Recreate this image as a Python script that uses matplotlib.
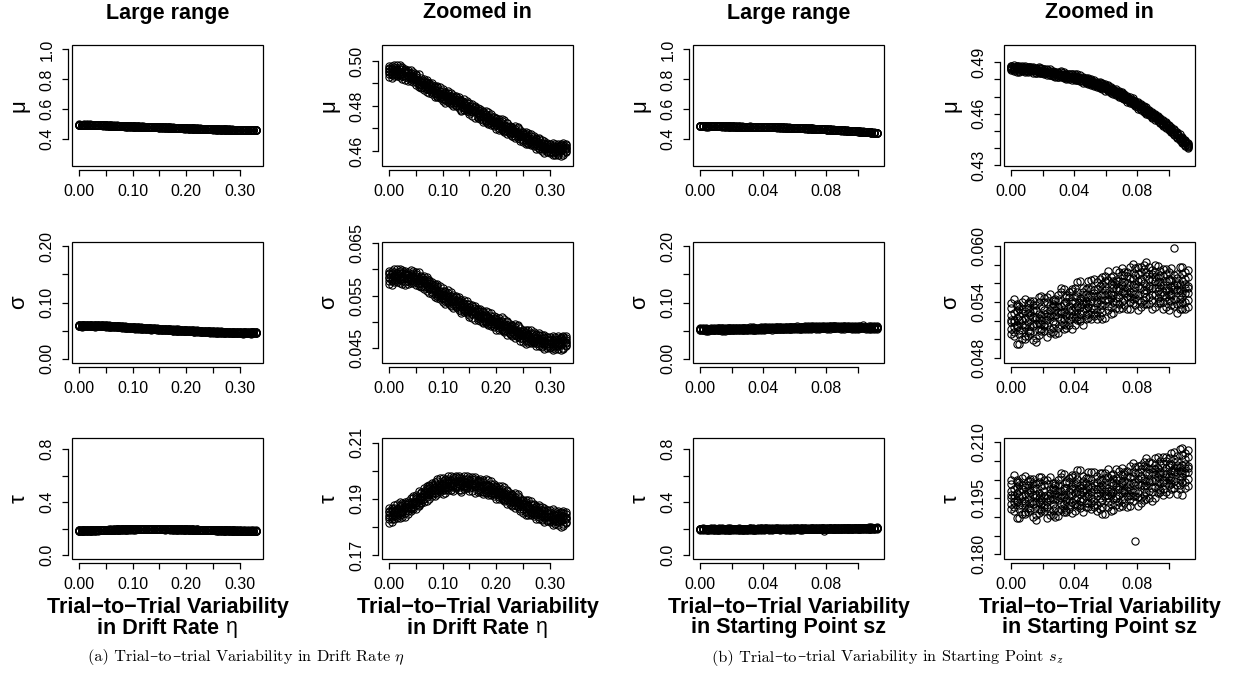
import numpy as np
import matplotlib
matplotlib.use("Agg")
import matplotlib.pyplot as plt
from matplotlib.patches import Rectangle
from matplotlib.offsetbox import TextArea, HPacker, AnnotationBbox

plt.rcParams['font.family'] = ['Liberation Sans', 'DejaVu Sans']
plt.rcParams['mathtext.fontset'] = 'cm'

# ---- data: trial-to-trial variability in drift rate (eta) ----
eta = [0.000, 0.005, 0.010, 0.015, 0.020, 0.025, 0.030, 0.035, 0.040, 0.045,
       0.050, 0.055, 0.060, 0.065, 0.070, 0.075, 0.080, 0.085, 0.090, 0.095,
       0.100, 0.105, 0.110, 0.115, 0.120, 0.125, 0.130, 0.135, 0.140, 0.145,
       0.150, 0.155, 0.160, 0.165, 0.170, 0.175, 0.180, 0.185, 0.190, 0.195,
       0.200, 0.205, 0.210, 0.215, 0.220, 0.225, 0.230, 0.235, 0.240, 0.245,
       0.250, 0.255, 0.260, 0.265, 0.270, 0.275, 0.280, 0.285, 0.290, 0.295,
       0.300, 0.305, 0.310, 0.315, 0.320, 0.325, 0.330]

# mu estimates (units of 1e-4), 7 replications per eta value
mu_eta = [
    [4964, 4940, 4979, 4949, 4955, 4928, 4970], [4964, 4943, 4976, 4952, 4925, 4970, 4937],
    [4943, 4973, 4958, 4934, 4982, 4952, 4961], [4939, 4981, 4948, 4933, 4960, 4954, 4966],
    [4973, 4943, 4928, 4964, 4949, 4982, 4937], [4952, 4940, 4964, 4973, 4931, 4922, 4943],
    [4945, 4960, 4927, 4951, 4915, 4954, 4966], [4913, 4952, 4937, 4931, 4961, 4949, 4925],
    [4928, 4961, 4946, 4919, 4937, 4913, 4925], [4944, 4905, 4932, 4926, 4914, 4953, 4929],
    [4936, 4894, 4918, 4927, 4906, 4942, 4915], [4904, 4916, 4892, 4940, 4910, 4898, 4886],
    [4881, 4908, 4917, 4893, 4923, 4884, 4905], [4920, 4881, 4899, 4872, 4911, 4893, 4905],
    [4901, 4886, 4862, 4907, 4895, 4877, 4916], [4871, 4880, 4901, 4895, 4856, 4904, 4874],
    [4861, 4900, 4885, 4873, 4852, 4891, 4876], [4875, 4890, 4842, 4863, 4872, 4851, 4884],
    [4865, 4844, 4883, 4889, 4853, 4856, 4838], [4835, 4847, 4865, 4883, 4841, 4856, 4853],
    [4874, 4850, 4838, 4832, 4865, 4856, 4820], [4844, 4859, 4832, 4826, 4862, 4850, 4814],
    [4829, 4850, 4817, 4841, 4868, 4823, 4856], [4859, 4808, 4826, 4835, 4823, 4811, 4844],
    [4841, 4799, 4832, 4847, 4820, 4826, 4814], [4811, 4829, 4841, 4805, 4826, 4844, 4802],
    [4811, 4823, 4799, 4790, 4832, 4841, 4820], [4820, 4778, 4808, 4826, 4784, 4802, 4811],
    [4829, 4790, 4805, 4811, 4781, 4793, 4817], [4778, 4799, 4781, 4793, 4823, 4811, 4787],
    [4772, 4811, 4784, 4790, 4802, 4763, 4787], [4787, 4772, 4808, 4757, 4778, 4784, 4802],
    [4783, 4771, 4795, 4747, 4777, 4789, 4801], [4747, 4789, 4762, 4780, 4783, 4753, 4768],
    [4740, 4779, 4761, 4788, 4749, 4767, 4755], [4772, 4751, 4736, 4757, 4778, 4763, 4730],
    [4762, 4753, 4732, 4738, 4777, 4729, 4759], [4741, 4771, 4750, 4732, 4726, 4720, 4753],
    [4731, 4716, 4764, 4743, 4734, 4755, 4722], [4752, 4716, 4728, 4746, 4722, 4734, 4710],
    [4746, 4734, 4716, 4698, 4740, 4725, 4728], [4704, 4719, 4731, 4695, 4743, 4710, 4725],
    [4713, 4698, 4725, 4731, 4695, 4707, 4743], [4716, 4686, 4689, 4713, 4704, 4737, 4695],
    [4674, 4725, 4707, 4698, 4710, 4722, 4689], [4689, 4707, 4698, 4674, 4713, 4680, 4695],
    [4698, 4680, 4668, 4704, 4683, 4665, 4707], [4674, 4698, 4659, 4689, 4683, 4710, 4668],
    [4665, 4707, 4677, 4659, 4701, 4683, 4674], [4683, 4653, 4668, 4692, 4644, 4674, 4665],
    [4683, 4662, 4680, 4668, 4638, 4650, 4674], [4638, 4668, 4683, 4647, 4662, 4629, 4674],
    [4650, 4665, 4629, 4680, 4659, 4653, 4635], [4647, 4632, 4665, 4641, 4677, 4638, 4626],
    [4665, 4623, 4650, 4632, 4629, 4659, 4644], [4642, 4609, 4624, 4651, 4633, 4657, 4645],
    [4615, 4636, 4651, 4630, 4609, 4624, 4657], [4607, 4649, 4625, 4616, 4637, 4601, 4628],
    [4622, 4592, 4613, 4631, 4637, 4643, 4610], [4636, 4609, 4600, 4624, 4594, 4633, 4612],
    [4589, 4625, 4613, 4595, 4619, 4607, 4631], [4597, 4612, 4636, 4591, 4603, 4621, 4582],
    [4622, 4607, 4595, 4631, 4583, 4616, 4601], [4623, 4584, 4599, 4611, 4632, 4593, 4608],
    [4599, 4629, 4626, 4602, 4611, 4578, 4620], [4607, 4628, 4589, 4583, 4619, 4616, 4634],
    [4618, 4600, 4609, 4633, 4594, 4627, 4612],
]

# sigma estimates (units of 1e-5)
sigma_eta = [
    [5905, 5785, 5980, 5830, 5860, 5725, 5935], [5908, 5803, 5968, 5848, 5713, 5938, 5773],
    [5805, 5955, 5880, 5760, 6000, 5850, 5895], [5790, 6000, 5835, 5760, 5895, 5865, 5925],
    [5970, 5820, 5745, 5925, 5850, 6015, 5790], [5878, 5818, 5938, 5983, 5773, 5728, 5833],
    [5860, 5935, 5770, 5890, 5710, 5905, 5965], [5720, 5915, 5840, 5810, 5960, 5900, 5780],
    [5820, 5985, 5910, 5775, 5865, 5745, 5805], [5930, 5735, 5870, 5840, 5780, 5975, 5855],
    [5920, 5710, 5830, 5875, 5770, 5950, 5815], [5775, 5835, 5715, 5955, 5805, 5745, 5685],
    [5675, 5810, 5855, 5735, 5885, 5690, 5795], [5870, 5675, 5765, 5630, 5825, 5735, 5795],
    [5780, 5705, 5585, 5810, 5750, 5660, 5855], [5625, 5670, 5775, 5745, 5550, 5790, 5640],
    [5575, 5770, 5695, 5635, 5530, 5725, 5650], [5645, 5720, 5480, 5585, 5630, 5525, 5690],
    [5595, 5490, 5685, 5715, 5535, 5550, 5460], [5445, 5505, 5595, 5685, 5475, 5550, 5535],
    [5640, 5520, 5460, 5430, 5595, 5550, 5370], [5490, 5565, 5430, 5400, 5580, 5520, 5340],
    [5415, 5520, 5355, 5475, 5610, 5385, 5550], [5565, 5310, 5400, 5445, 5385, 5325, 5490],
    [5475, 5265, 5430, 5505, 5370, 5400, 5340], [5328, 5418, 5478, 5298, 5403, 5493, 5283],
    [5330, 5390, 5270, 5225, 5435, 5480, 5375], [5378, 5168, 5318, 5408, 5198, 5288, 5333],
    [5425, 5230, 5305, 5335, 5185, 5245, 5365], [5170, 5275, 5185, 5245, 5395, 5335, 5215],
    [5140, 5335, 5200, 5230, 5290, 5095, 5215], [5220, 5145, 5325, 5070, 5175, 5205, 5295],
    [5210, 5150, 5270, 5030, 5180, 5240, 5300], [5035, 5245, 5110, 5200, 5215, 5065, 5140],
    [5010, 5205, 5115, 5250, 5055, 5145, 5085], [5180, 5075, 5000, 5105, 5210, 5135, 4970],
    [5140, 5095, 4990, 5020, 5215, 4975, 5125], [5040, 5190, 5085, 4995, 4965, 4935, 5100],
    [5000, 4925, 5165, 5060, 5015, 5120, 4955], [5110, 4930, 4990, 5080, 4960, 5020, 4900],
    [5085, 5025, 4935, 4845, 5055, 4980, 4995], [4883, 4958, 5018, 4838, 5078, 4913, 4988],
    [4935, 4860, 4995, 5025, 4845, 4905, 5085], [4958, 4808, 4823, 4943, 4898, 5063, 4853],
    [4755, 5010, 4920, 4875, 4935, 4995, 4830], [4838, 4928, 4883, 4763, 4958, 4793, 4868],
    [4890, 4800, 4740, 4920, 4815, 4725, 4935], [4775, 4895, 4700, 4850, 4820, 4955, 4745],
    [4735, 4945, 4795, 4705, 4915, 4825, 4780], [4833, 4683, 4758, 4878, 4638, 4788, 4743],
    [4840, 4735, 4825, 4765, 4615, 4675, 4795], [4628, 4778, 4853, 4673, 4748, 4583, 4808],
    [4700, 4775, 4595, 4850, 4745, 4715, 4625], [4698, 4623, 4788, 4668, 4848, 4653, 4593],
    [4800, 4590, 4725, 4635, 4620, 4770, 4695], [4695, 4530, 4605, 4740, 4650, 4770, 4710],
    [4575, 4680, 4755, 4650, 4545, 4620, 4785], [4548, 4758, 4638, 4593, 4698, 4518, 4653],
    [4640, 4490, 4595, 4685, 4715, 4745, 4580], [4718, 4583, 4538, 4658, 4508, 4703, 4598],
    [4495, 4675, 4615, 4525, 4645, 4585, 4705], [4540, 4615, 4735, 4510, 4570, 4660, 4465],
    [4675, 4600, 4540, 4720, 4480, 4645, 4570], [4680, 4485, 4560, 4620, 4725, 4530, 4605],
    [4565, 4715, 4700, 4580, 4625, 4460, 4670], [4600, 4705, 4510, 4480, 4660, 4645, 4735],
    [4650, 4560, 4605, 4725, 4530, 4695, 4620],
]

# tau estimates (units of 1e-4)
tau_eta = [
    [1852, 1828, 1867, 1837, 1843, 1816, 1858], [1856, 1835, 1868, 1844, 1817, 1862, 1829],
    [1838, 1868, 1853, 1829, 1877, 1847, 1856], [1839, 1881, 1848, 1833, 1860, 1854, 1866],
    [1879, 1849, 1834, 1870, 1855, 1888, 1843], [1866, 1854, 1878, 1887, 1845, 1836, 1857],
    [1867, 1882, 1849, 1873, 1837, 1876, 1888], [1846, 1885, 1870, 1864, 1894, 1882, 1858],
    [1872, 1905, 1890, 1863, 1881, 1857, 1869], [1902, 1863, 1890, 1884, 1872, 1911, 1887],
    [1908, 1866, 1890, 1899, 1878, 1914, 1887], [1892, 1904, 1880, 1928, 1898, 1886, 1874],
    [1884, 1911, 1920, 1896, 1926, 1887, 1908], [1937, 1898, 1916, 1889, 1928, 1910, 1922],
    [1932, 1917, 1893, 1938, 1926, 1908, 1947], [1915, 1924, 1945, 1939, 1900, 1948, 1918],
    [1918, 1957, 1942, 1930, 1909, 1948, 1933], [1944, 1959, 1911, 1932, 1941, 1920, 1953],
    [1945, 1924, 1963, 1969, 1933, 1936, 1918], [1925, 1937, 1955, 1973, 1931, 1946, 1943],
    [1973, 1949, 1937, 1931, 1964, 1955, 1919], [1951, 1966, 1939, 1933, 1969, 1957, 1921],
    [1944, 1965, 1932, 1956, 1983, 1938, 1971], [1981, 1930, 1948, 1957, 1945, 1933, 1966],
    [1970, 1928, 1961, 1976, 1949, 1955, 1943], [1947, 1965, 1977, 1941, 1962, 1980, 1938],
    [1953, 1965, 1941, 1932, 1974, 1983, 1962], [1968, 1926, 1956, 1974, 1932, 1950, 1959],
    [1983, 1944, 1959, 1965, 1935, 1947, 1971], [1938, 1959, 1941, 1953, 1983, 1971, 1947],
    [1937, 1976, 1949, 1955, 1967, 1928, 1952], [1957, 1942, 1978, 1927, 1948, 1954, 1972],
    [1958, 1946, 1970, 1922, 1952, 1964, 1976], [1926, 1968, 1941, 1959, 1962, 1932, 1947],
    [1924, 1963, 1945, 1972, 1933, 1951, 1939], [1960, 1939, 1924, 1945, 1966, 1951, 1918],
    [1954, 1945, 1924, 1930, 1969, 1921, 1951], [1936, 1966, 1945, 1927, 1921, 1915, 1948],
    [1929, 1914, 1962, 1941, 1932, 1953, 1920], [1952, 1916, 1928, 1946, 1922, 1934, 1910],
    [1947, 1935, 1917, 1899, 1941, 1926, 1929], [1907, 1922, 1934, 1898, 1946, 1913, 1928],
    [1917, 1902, 1929, 1935, 1899, 1911, 1947], [1922, 1892, 1895, 1919, 1910, 1943, 1901],
    [1881, 1932, 1914, 1905, 1917, 1929, 1896], [1897, 1915, 1906, 1882, 1921, 1888, 1903],
    [1907, 1889, 1877, 1913, 1892, 1874, 1916], [1884, 1908, 1869, 1899, 1893, 1920, 1878],
    [1876, 1918, 1888, 1870, 1912, 1894, 1885], [1895, 1865, 1880, 1904, 1856, 1886, 1877],
    [1896, 1875, 1893, 1881, 1851, 1863, 1887], [1852, 1882, 1897, 1861, 1876, 1843, 1888],
    [1865, 1880, 1844, 1895, 1874, 1868, 1850], [1864, 1849, 1882, 1858, 1894, 1855, 1843],
    [1883, 1841, 1868, 1850, 1847, 1877, 1862], [1861, 1828, 1843, 1870, 1852, 1876, 1864],
    [1836, 1857, 1872, 1851, 1830, 1845, 1878], [1830, 1872, 1848, 1839, 1860, 1824, 1851],
    [1847, 1817, 1838, 1856, 1862, 1868, 1835], [1862, 1835, 1826, 1850, 1820, 1859, 1838],
    [1817, 1853, 1841, 1823, 1847, 1835, 1859], [1824, 1839, 1863, 1818, 1830, 1848, 1809],
    [1849, 1834, 1822, 1858, 1810, 1843, 1828], [1848, 1809, 1824, 1836, 1857, 1818, 1833],
    [1823, 1853, 1850, 1826, 1835, 1802, 1844], [1829, 1850, 1811, 1805, 1841, 1838, 1856],
    [1837, 1819, 1828, 1852, 1813, 1846, 1831],
]

# ---- data: trial-to-trial variability in starting point (sz) ----
sz = [0.00000, 0.00175, 0.00350, 0.00525, 0.00700, 0.00875, 0.01050, 0.01225,
      0.01400, 0.01575, 0.01750, 0.01925, 0.02100, 0.02275, 0.02450, 0.02625,
      0.02800, 0.02975, 0.03150, 0.03325, 0.03500, 0.03675, 0.03850, 0.04025,
      0.04200, 0.04375, 0.04550, 0.04725, 0.04900, 0.05075, 0.05250, 0.05425,
      0.05600, 0.05775, 0.05950, 0.06125, 0.06300, 0.06475, 0.06650, 0.06825,
      0.07000, 0.07175, 0.07350, 0.07525, 0.07700, 0.07875, 0.08050, 0.08225,
      0.08400, 0.08575, 0.08750, 0.08925, 0.09100, 0.09275, 0.09450, 0.09625,
      0.09800, 0.09975, 0.10150, 0.10325, 0.10500, 0.10675, 0.10850, 0.11025,
      0.11200]

mu_sz = [
    [4870, 4858, 4864, 4880, 4854, 4876, 4866], [4851, 4859, 4871, 4883, 4855, 4865, 4863],
    [4858, 4878, 4876, 4860, 4866, 4844, 4872], [4863, 4873, 4855, 4851, 4875, 4867, 4843],
    [4872, 4862, 4854, 4878, 4846, 4868, 4858], [4879, 4845, 4857, 4863, 4855, 4847, 4869],
    [4845, 4869, 4861, 4849, 4865, 4857, 4873], [4852, 4864, 4872, 4848, 4862, 4874, 4846],
    [4858, 4838, 4852, 4864, 4868, 4872, 4850], [4862, 4834, 4854, 4866, 4838, 4850, 4856],
    [4841, 4855, 4865, 4851, 4837, 4847, 4869], [4836, 4850, 4838, 4846, 4866, 4858, 4842],
    [4861, 4833, 4851, 4839, 4837, 4857, 4847], [4844, 4834, 4858, 4824, 4838, 4842, 4854],
    [4837, 4847, 4823, 4857, 4843, 4839, 4827], [4820, 4848, 4830, 4842, 4844, 4824, 4834],
    [4844, 4830, 4842, 4834, 4814, 4822, 4838], [4839, 4825, 4815, 4829, 4843, 4833, 4811],
    [4818, 4846, 4826, 4814, 4842, 4830, 4824], [4821, 4841, 4827, 4815, 4811, 4807, 4829],
    [4826, 4814, 4806, 4830, 4816, 4804, 4832], [4832, 4808, 4816, 4828, 4812, 4820, 4804],
    [4797, 4831, 4819, 4813, 4821, 4829, 4807], [4802, 4812, 4820, 4796, 4828, 4806, 4816],
    [4808, 4798, 4816, 4820, 4796, 4804, 4828], [4810, 4790, 4792, 4808, 4802, 4824, 4796],
    [4813, 4805, 4793, 4781, 4809, 4799, 4801], [4790, 4802, 4796, 4780, 4806, 4784, 4794],
    [4785, 4775, 4807, 4793, 4787, 4801, 4779], [4778, 4794, 4768, 4788, 4784, 4802, 4774],
    [4786, 4780, 4766, 4770, 4796, 4764, 4784], [4781, 4761, 4771, 4787, 4755, 4775, 4769],
    [4751, 4777, 4765, 4783, 4757, 4769, 4761], [4747, 4767, 4777, 4753, 4763, 4741, 4771],
    [4758, 4750, 4766, 4734, 4754, 4762, 4770], [4747, 4737, 4759, 4743, 4767, 4741, 4733],
    [4728, 4754, 4736, 4740, 4748, 4722, 4738], [4736, 4714, 4724, 4742, 4730, 4746, 4738],
    [4742, 4716, 4726, 4730, 4710, 4718, 4734], [4704, 4732, 4716, 4710, 4724, 4700, 4718],
    [4705, 4713, 4697, 4691, 4719, 4725, 4711], [4712, 4694, 4688, 4704, 4684, 4710, 4696],
    [4699, 4671, 4693, 4703, 4685, 4689, 4681], [4672, 4682, 4698, 4668, 4676, 4688, 4662],
    [4664, 4678, 4656, 4672, 4690, 4660, 4682], [4670, 4644, 4654, 4662, 4676, 4650, 4660],
    [4666, 4650, 4642, 4638, 4660, 4654, 4630], [4637, 4651, 4625, 4621, 4645, 4643, 4655],
    [4630, 4616, 4642, 4646, 4622, 4624, 4612], [4601, 4617, 4625, 4629, 4607, 4613, 4637],
    [4596, 4622, 4612, 4604, 4590, 4616, 4606], [4601, 4587, 4609, 4593, 4575, 4605, 4583],
    [4591, 4581, 4565, 4595, 4587, 4575, 4601], [4561, 4589, 4567, 4557, 4575, 4571, 4579],
    [4545, 4563, 4569, 4553, 4573, 4547, 4561], [4549, 4541, 4557, 4563, 4535, 4529, 4543],
    [4546, 4518, 4534, 4540, 4526, 4550, 4532], [4503, 4529, 4519, 4515, 4535, 4527, 4511],
    [4503, 4525, 4515, 4497, 4509, 4493, 4501], [4505, 4479, 4497, 4493, 4485, 4511, 4495],
    [4478, 4488, 4466, 4482, 4458, 4484, 4492], [4458, 4466, 4450, 4482, 4462, 4454, 4446],
    [4460, 4440, 4430, 4454, 4444, 4466, 4436], [4446, 4420, 4432, 4414, 4440, 4428, 4436],
    [4405, 4425, 4415, 4399, 4431, 4411, 4417],
]

sigma_sz = [
    [5260, 5110, 5185, 5385, 5060, 5335, 5210], [5033, 5133, 5283, 5433, 5083, 5208, 5183],
    [5130, 5380, 5355, 5155, 5230, 4955, 5305], [5205, 5330, 5105, 5055, 5355, 5255, 4955],
    [5330, 5205, 5105, 5405, 5005, 5280, 5155], [5433, 5008, 5158, 5233, 5133, 5033, 5308],
    [5035, 5335, 5235, 5085, 5285, 5185, 5385], [5138, 5288, 5388, 5088, 5263, 5413, 5063],
    [5240, 4990, 5165, 5315, 5365, 5415, 5140], [5320, 4970, 5220, 5370, 5020, 5170, 5245],
    [5100, 5275, 5400, 5225, 5050, 5175, 5450], [5085, 5260, 5110, 5210, 5460, 5360, 5160],
    [5445, 5095, 5320, 5170, 5145, 5395, 5270], [5280, 5155, 5455, 5030, 5205, 5255, 5405],
    [5240, 5365, 5065, 5490, 5315, 5265, 5115], [5075, 5425, 5200, 5350, 5375, 5125, 5250],
    [5435, 5260, 5410, 5310, 5060, 5160, 5360], [5420, 5245, 5120, 5295, 5470, 5345, 5070],
    [5205, 5555, 5305, 5155, 5505, 5355, 5280], [5290, 5540, 5365, 5215, 5165, 5115, 5390],
    [5400, 5250, 5150, 5450, 5275, 5125, 5475], [5508, 5208, 5308, 5458, 5258, 5358, 5158],
    [5115, 5540, 5390, 5315, 5415, 5515, 5240], [5225, 5350, 5450, 5150, 5550, 5275, 5400],
    [5360, 5235, 5460, 5510, 5210, 5310, 5610], [5445, 5195, 5220, 5420, 5345, 5620, 5270],
    [5555, 5455, 5305, 5155, 5505, 5380, 5405], [5340, 5490, 5415, 5215, 5540, 5265, 5390],
    [5350, 5225, 5625, 5450, 5375, 5550, 5275], [5338, 5538, 5213, 5463, 5413, 5638, 5288],
    [5525, 5450, 5275, 5325, 5650, 5250, 5500], [5538, 5288, 5413, 5613, 5213, 5463, 5388],
    [5250, 5575, 5425, 5650, 5325, 5475, 5375], [5288, 5538, 5663, 5363, 5488, 5213, 5588],
    [5525, 5425, 5625, 5225, 5475, 5575, 5675], [5485, 5360, 5635, 5435, 5735, 5410, 5310],
    [5345, 5670, 5445, 5495, 5595, 5270, 5470], [5555, 5280, 5405, 5630, 5480, 5680, 5580],
    [5740, 5415, 5540, 5590, 5340, 5440, 5640], [5375, 5725, 5525, 5450, 5625, 5325, 5550],
    [5510, 5610, 5410, 5335, 5685, 5760, 5585], [5718, 5493, 5418, 5618, 5368, 5693, 5518],
    [5675, 5325, 5600, 5725, 5500, 5550, 5450], [5455, 5580, 5780, 5405, 5505, 5655, 5330],
    [5485, 5660, 5385, 5585, 5810, 5435, 5710], [5690, 5365, 5490, 5590, 5765, 5440, 5565],
    [5770, 5570, 5470, 5420, 5695, 5620, 5320], [5548, 5723, 5398, 5348, 5648, 5623, 5773],
    [5600, 5425, 5750, 5800, 5500, 5525, 5375], [5375, 5575, 5675, 5725, 5450, 5525, 5825],
    [5450, 5775, 5650, 5550, 5375, 5700, 5575], [5648, 5473, 5748, 5548, 5323, 5698, 5423],
    [5670, 5545, 5345, 5720, 5620, 5470, 5795], [5440, 5790, 5515, 5390, 5615, 5565, 5665],
    [5385, 5610, 5685, 5485, 5735, 5410, 5585], [5580, 5480, 5680, 5755, 5405, 5330, 5505],
    [5700, 5350, 5550, 5625, 5450, 5750, 5525], [5320, 5645, 5520, 5470, 5720, 5620, 5420],
    [5490, 5765, 5640, 5415, 5565, 5365, 5465], [5685, 5360, 5585, 5535, 5435, 5980, 5560],
    [5530, 5655, 5380, 5580, 5280, 5605, 5705], [5478, 5578, 5378, 5778, 5528, 5428, 5328],
    [5700, 5450, 5325, 5625, 5500, 5775, 5400], [5723, 5398, 5548, 5323, 5648, 5498, 5598],
    [5420, 5670, 5545, 5345, 5745, 5495, 5570],
]

tau_sz = [
    [1970, 1934, 1952, 2000, 1922, 1988, 1958], [1916, 1940, 1976, 2012, 1928, 1958, 1952],
    [1939, 1999, 1993, 1945, 1963, 1897, 1981], [1957, 1987, 1933, 1921, 1993, 1969, 1897],
    [1986, 1956, 1932, 2004, 1908, 1974, 1944], [2010, 1908, 1944, 1962, 1938, 1914, 1980],
    [1913, 1985, 1961, 1925, 1973, 1949, 1997], [1937, 1973, 1997, 1925, 1967, 2003, 1919],
    [1960, 1900, 1942, 1978, 1990, 2002, 1936], [1977, 1893, 1953, 1989, 1905, 1941, 1959],
    [1922, 1964, 1994, 1952, 1910, 1940, 2006], [1916, 1958, 1922, 1946, 2006, 1982, 1934],
    [1999, 1915, 1969, 1933, 1927, 1987, 1957], [1958, 1928, 2000, 1898, 1940, 1952, 1988],
    [1946, 1976, 1904, 2006, 1964, 1952, 1916], [1906, 1990, 1936, 1972, 1978, 1918, 1948],
    [1991, 1949, 1985, 1961, 1901, 1925, 1973], [1987, 1945, 1915, 1957, 1999, 1969, 1903],
    [1934, 2018, 1958, 1922, 2006, 1970, 1952], [1954, 2014, 1972, 1936, 1924, 1912, 1978],
    [1979, 1943, 1919, 1991, 1949, 1913, 1997], [2005, 1933, 1957, 1993, 1945, 1969, 1921],
    [1910, 2012, 1976, 1958, 1982, 2006, 1940], [1935, 1965, 1989, 1917, 2013, 1947, 1977],
    [1966, 1936, 1990, 2002, 1930, 1954, 2026], [1985, 1925, 1931, 1979, 1961, 2027, 1943],
    [2009, 1985, 1949, 1913, 1997, 1967, 1973], [1956, 1992, 1974, 1926, 2004, 1938, 1968],
    [1956, 1926, 2022, 1980, 1962, 2004, 1938], [1950, 1998, 1920, 1980, 1968, 2022, 1938],
    [1992, 1974, 1932, 1944, 2022, 1926, 1986], [1993, 1933, 1963, 2011, 1915, 1975, 1957],
    [1921, 1999, 1963, 2017, 1939, 1975, 1951], [1927, 1987, 2017, 1945, 1975, 1909, 1999],
    [1981, 1957, 2005, 1909, 1969, 1993, 2017], [1970, 1940, 2006, 1958, 2030, 1952, 1928],
    [1935, 2013, 1959, 1971, 1995, 1917, 1965], [1985, 1919, 1949, 2003, 1967, 2015, 1991],
    [2028, 1950, 1980, 1992, 1932, 1956, 2004], [1940, 2024, 1976, 1958, 2000, 1928, 1982],
    [1971, 1995, 1947, 1929, 2013, 2031, 1989], [2021, 1967, 1949, 1997, 1937, 2015, 1973],
    [2011, 1927, 1993, 2023, 1969, 1981, 1957], [1959, 1989, 2037, 1947, 1971, 2007, 1929],
    [1967, 2009, 1943, 1991, 2045, 1955, 2021], [2017, 1836, 1969, 1993, 2035, 1957, 1987],
    [2037, 1989, 1965, 1953, 2019, 2001, 1929], [1986, 2028, 1950, 1938, 2010, 2004, 2040],
    [2000, 1958, 2036, 2048, 1976, 1982, 1946], [1949, 1997, 2021, 2033, 1967, 1985, 2057],
    [1969, 2047, 2017, 1993, 1951, 2029, 1999], [2020, 1978, 2044, 1996, 1942, 2032, 1966],
    [2028, 1998, 1950, 2040, 2016, 1980, 2058], [1977, 2061, 1995, 1965, 2019, 2007, 2031],
    [1967, 2021, 2039, 1991, 2051, 1973, 2015], [2018, 1994, 2042, 2060, 1976, 1958, 2000],
    [2050, 1966, 2014, 2032, 1990, 2062, 2008], [1962, 2040, 2010, 1998, 2058, 2034, 1986],
    [2006, 2072, 2042, 1988, 2024, 1976, 2000], [2056, 1978, 2032, 2020, 1996, 2074, 2026],
    [2021, 2051, 1985, 2033, 1961, 2039, 2063], [2011, 2035, 1987, 2083, 2023, 1999, 1975],
    [2066, 2006, 1960, 2040, 2018, 2084, 1994], [2073, 1995, 2031, 1977, 2055, 2019, 2043],
    [2002, 2062, 2032, 1984, 2080, 2020, 2038],
]

# unit scales of the stored estimates (mu, sigma, tau)
units = [1e-4, 1e-5, 1e-4]

# ---- axis ticks / labels ----
eta_ticks = [0.00, 0.05, 0.10, 0.15, 0.20, 0.25, 0.30]
eta_labels = ['0.00', '', '0.10', '', '0.20', '', '0.30']
sz_ticks = [0.00, 0.02, 0.04, 0.06, 0.08, 0.10]
sz_labels = ['0.00', '', '0.04', '', '0.08', '']

large_ylim = [(0.22, 1.03), (-0.008, 0.208), (-0.03, 0.883)]
large_yticks = [[0.4, 0.6, 0.8, 1.0], [0.0, 0.05, 0.10, 0.15, 0.20], [0.0, 0.2, 0.4, 0.6, 0.8]]
large_ylabels = [['0.4', '0.6', '0.8', '1.0'], ['0.00', '', '0.10', '', '0.20'], ['0.0', '', '0.4', '', '0.8']]

eta_ylim = [(0.4533, 0.5071), (0.04214, 0.06525), (0.1687, 0.2116)]
eta_yticks = [[0.46, 0.47, 0.48, 0.49, 0.50], [0.045, 0.050, 0.055, 0.060, 0.065], [0.17, 0.18, 0.19, 0.20, 0.21]]
eta_ylabels = [['0.46', '', '0.48', '', '0.50'], ['0.045', '', '0.055', '', '0.065'], ['0.17', '', '0.19', '', '0.21']]

sz_ylim = [(0.4297, 0.4999), (0.04747, 0.06043), (0.1787, 0.2112)]
sz_yticks = [[0.43, 0.44, 0.45, 0.46, 0.47, 0.48, 0.49],
             [0.048, 0.050, 0.052, 0.054, 0.056, 0.058, 0.060],
             [0.180, 0.185, 0.190, 0.195, 0.200, 0.205, 0.210]]
sz_ylabels = [['0.43', '', '', '0.46', '', '', '0.49'],
              ['0.048', '', '', '0.054', '', '', '0.060'],
              ['0.180', '', '', '0.195', '', '', '0.210']]

param_names = ['\u03bc', '\u03c3', '\u03c4']

W, H = 1254, 692
fig = plt.figure(figsize=(W / 100, H / 100), dpi=100)

col_left = [72, 382, 693, 1004]
row_top = [45, 242, 438]
box_w, box_h = 191, 121

TICK_FS = 11.5
BOLD_FS = 15.5


def draw_panel(ax, x, y, unit, xlim, xt, xtl, ylim, yt, ytl):
    y = np.asarray(y, dtype=float) * unit
    xs = np.repeat(x, y.shape[1])
    ax.plot(xs, y.ravel(), 'o', mfc='none', mec='black', ms=5.2, mew=0.8, linestyle='none')
    # R-style detached axes: spines pushed outward, box drawn separately
    for s in ('top', 'right'):
        ax.spines[s].set_visible(False)
    for s in ('left', 'bottom'):
        ax.spines[s].set_position(('outward', 3))
        ax.spines[s].set_linewidth(0.9)
    ax.set_xlim(*xlim)
    ax.set_ylim(*ylim)
    ax.tick_params(length=4.2, width=0.9, labelsize=TICK_FS, pad=5.5)
    ax.set_xticks(xt)
    ax.set_xticklabels(xtl)
    ax.set_yticks(yt)
    ax.set_yticklabels(ytl, rotation=90, va='center')
    ax.spines['bottom'].set_bounds(xt[0], xt[-1])
    ax.spines['left'].set_bounds(yt[0], yt[-1])
    ax.add_patch(Rectangle((0, 0), 1, 1, transform=ax.transAxes, fill=False,
                           lw=0.9, edgecolor='black', clip_on=False))


columns = [
    (eta, [mu_eta, sigma_eta, tau_eta], (-0.0132, 0.3432), eta_ticks, eta_labels, large_ylim, large_yticks, large_ylabels, 'Large range'),
    (eta, [mu_eta, sigma_eta, tau_eta], (-0.0132, 0.3432), eta_ticks, eta_labels, eta_ylim, eta_yticks, eta_ylabels, 'Zoomed in'),
    (sz, [mu_sz, sigma_sz, tau_sz], (-0.00448, 0.11648), sz_ticks, sz_labels, large_ylim, large_yticks, large_ylabels, 'Large range'),
    (sz, [mu_sz, sigma_sz, tau_sz], (-0.00448, 0.11648), sz_ticks, sz_labels, sz_ylim, sz_yticks, sz_ylabels, 'Zoomed in'),
]

for c, (x, series, xlim, xt, xtl, ylims, yts, ytls, title) in enumerate(columns):
    for r in range(3):
        rect = [col_left[c] / W, 1 - (row_top[r] + box_h) / H, box_w / W, box_h / H]
        ax = fig.add_axes(rect)
        draw_panel(ax, x, series[r], units[r], xlim, xt, xtl, ylims[r], yts[r], ytls[r])
        ax.text(-53 / box_w, 0.5, param_names[r], transform=ax.transAxes, rotation=90,
                ha='center', va='center', rotation_mode='anchor', fontsize=16)
        if r == 0:
            ax.text(0.5, 1 + 32 / box_h, title, transform=ax.transAxes, ha='center',
                    va='center', fontsize=BOLD_FS, fontweight='bold')
        if r == 2:
            ax.text(0.5, -48 / box_h, 'Trial\u2212to\u2212Trial Variability', transform=ax.transAxes,
                    ha='center', va='center', fontsize=BOLD_FS, fontweight='bold')
            if c < 2:
                parts = [TextArea('in Drift Rate', textprops=dict(fontsize=BOLD_FS, fontweight='bold')),
                         TextArea('\u03b7', textprops=dict(fontsize=BOLD_FS))]
                box = HPacker(children=parts, align='baseline', pad=0, sep=5)
                ab = AnnotationBbox(box, (0.5, -69 / box_h), xycoords='axes fraction',
                                    box_alignment=(0.5, 0.5), frameon=False, pad=0)
                ax.add_artist(ab)
            else:
                ax.text(0.5, -69 / box_h, 'in Starting Point sz', transform=ax.transAxes,
                        ha='center', va='center', fontsize=BOLD_FS, fontweight='bold')


def caption(x_px, pieces):
    areas = []
    for txt, fam in pieces:
        areas.append(TextArea(txt, textprops=dict(fontsize=11.7, family=fam)))
    box = HPacker(children=areas, align='baseline', pad=0, sep=0)
    ab = AnnotationBbox(box, (x_px / W, 1 - 657 / H), xycoords='figure fraction',
                        box_alignment=(0, 0.5), frameon=False, pad=0)
    fig.add_artist(ab)


CM = 'cmr10'
SER = 'DejaVu Serif'
caption(88, [('(a) Trial', CM), ('\u2013', SER), ('to', CM), ('\u2013', SER),
             ('trial Variability in Drift Rate $\\eta$', CM)])
caption(712, [('(b) Trial', CM), ('\u2013', SER), ('to', CM), ('\u2013', SER),
              ('trial Variability in Starting Point $s_z$', CM)])

fig.savefig('out.png', dpi=100)
